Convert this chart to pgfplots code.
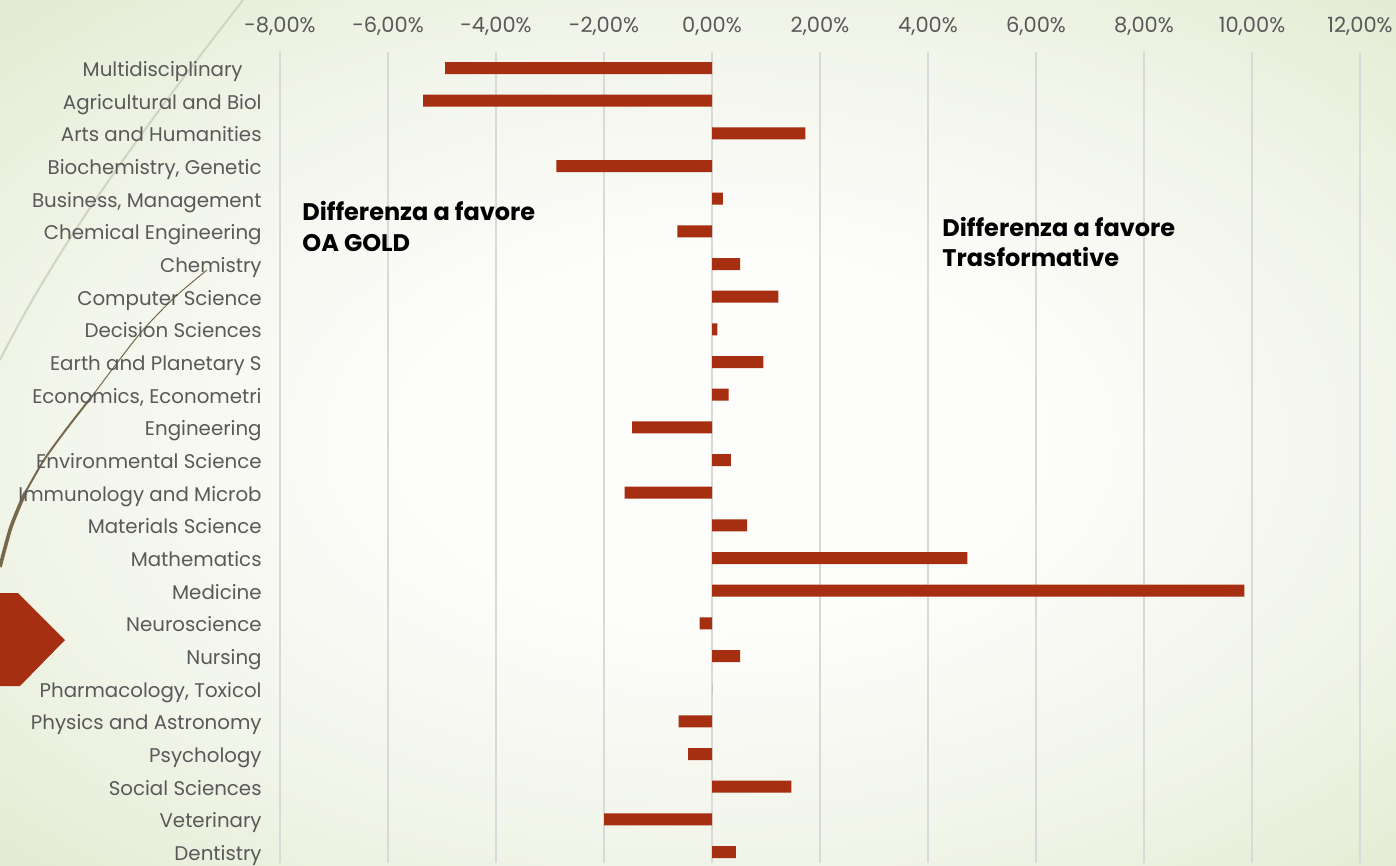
\documentclass[border=0pt]{standalone}
\usepackage{pgfplots}
\pgfplotsset{compat=1.18}
\usepackage{fontspec}
\setmainfont{Poppins}

\definecolor{barred}{RGB}{166,46,17}
\definecolor{labelgray}{RGB}{89,89,89}
\definecolor{gridgray}{RGB}{217,217,217}
\definecolor{bgout}{RGB}{228,236,212}
\definecolor{bgmid}{RGB}{242,245,234}
\definecolor{bgin}{RGB}{253,253,251}
\definecolor{lightline}{RGB}{208,212,194}
\definecolor{darkline}{RGB}{118,104,74}

\pgfdeclareradialshading{slidebg}{\pgfpoint{0bp}{0bp}}{%
  color(0bp)=(bgin); color(10bp)=(bgin); color(22bp)=(bgmid);
  color(32bp)=(bgout); color(50bp)=(bgout)}

\begin{document}
\begin{tikzpicture}
% decorations, in pixel units (y down)
\begin{scope}[x=0.5pt,y=-0.5pt]
  \useasboundingbox (0,0) rectangle (1396,863);
  \fill[bgout] (0,0) rectangle (1396,863);
  \shade[shading=slidebg] (-60,-20) rectangle (1500,900);
  \draw[lightline, line width=1.0pt] (243,0) .. controls (150,120) and (60,240) .. (0,360);
  \draw[darkline, line width=0.5pt] plot[smooth] coordinates {(207,270) (175,297) (143,330) (117,363) (93,395)};
  \draw[darkline, line width=1.0pt] plot[smooth] coordinates {(93,395) (68,427) (44,460) (25,493)};
  \draw[darkline, line width=1.8pt] plot[smooth] coordinates {(25,493) (11,527) (0,567)};
  \fill[barred] (0,593) -- (18,593) -- (65,640) -- (20,686) -- (0,686) -- cycle;
\end{scope}

\begin{axis}[
  at={(140pt,-431.5pt)}, anchor=south west,
  scale only axis, width=540pt, height=405.65pt,
  xbar, bar width=6pt,
  xmin=-8, xmax=12, ymin=-0.337, ymax=24.5,
  axis line style={draw=none}, major tick length=0pt,
  xtick={-8,-6,...,12},
  xticklabels={{-8,00\%},{-6,00\%},{-4,00\%},{-2,00\%},{0,00\%},{2,00\%},{4,00\%},{6,00\%},{8,00\%},{10,00\%},{12,00\%}},
  xticklabel pos=upper,
  xmajorgrids, grid style={draw=gridgray, line width=0.8pt},
  ytick={0,...,24},
  yticklabels={Dentistry,Veterinary,Social Sciences,Psychology,Physics and Astronomy,{Pharmacology, Toxicol},Nursing,Neuroscience,Medicine,Mathematics,Materials Science,Immunology and Microb,Environmental Science,Engineering,{Economics, Econometri},Earth and Planetary S,Decision Sciences,Computer Science,Chemistry,Chemical Engineering,{Business, Management},{Biochemistry, Genetic},Arts and Humanities,Agricultural and Biol,Multidisciplinary\hspace*{9.5pt}},
  tick label style={text=labelgray},
  xticklabel style={font=\fontsize{10.5}{12}\selectfont, anchor=base, inner sep=0pt, yshift=9.7pt},
  yticklabel style={font=\fontsize{9.9}{12}\selectfont, anchor=base east, inner sep=0pt, xshift=-9pt, yshift=-4.3pt},
]
\addplot[fill=barred, draw=none] coordinates {
  (-4.94,24) (-5.35,23) (1.73,22) (-2.88,21) (0.20,20)
  (-0.64,19) (0.52,18) (1.23,17) (0.10,16) (0.95,15)
  (0.31,14) (-1.48,13) (0.35,12) (-1.62,11) (0.65,10)
  (4.73,9) (9.86,8) (-0.23,7) (0.52,6) (0,5)
  (-0.62,4) (-0.44,3) (1.47,2) (-2.00,1) (0.44,0)
};
\end{axis}

\begin{scope}[x=0.5pt,y=-0.5pt, every node/.style={inner sep=0pt, anchor=base west, font=\fontsize{12}{15}\selectfont\bfseries}]
  \node at (302,221) {Differenza a favore};
  \node at (302,252) {OA GOLD};
  \node at (942,237) {Differenza a favore};
  \node at (942,267) {Trasformative};
\end{scope}
\end{tikzpicture}
\end{document}
